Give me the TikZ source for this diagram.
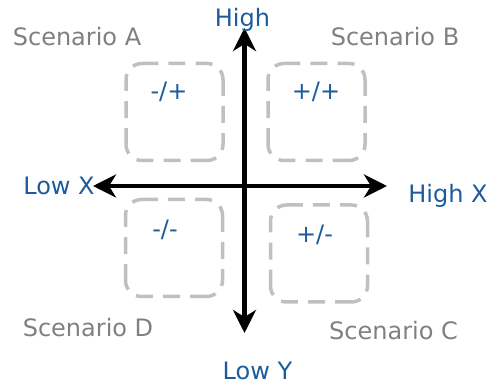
\documentclass[tikz,border=0pt]{standalone}
\usepackage{fontspec}
\setmainfont{DejaVu Sans}
\usetikzlibrary{positioning, arrows.meta}
\definecolor{axisblue}{RGB}{28,92,156}
\definecolor{scengray}{RGB}{128,128,128}
\definecolor{quadgray}{RGB}{192,192,192}

\begin{document}
\begin{tikzpicture}[x=1pt, y=-1pt, >={Stealth[length=23pt, width=23pt, inset=7pt]},
  font=\fontsize{24}{28}\selectfont,
  area/.style={minimum width=97pt, minimum height=97pt, inner sep=0pt, outer sep=0pt},
  quad/.style={draw=quadgray, line width=3.5pt, rounded corners=16pt,
    dash pattern=on 17pt off 10pt on 26pt off 10pt on 17pt off 10.1pt, dash phase=85.05pt},
  sign/.style={text=axisblue, anchor=base, inner sep=0pt},
  ends/.style={text=axisblue, anchor=base, inner sep=0pt},
  scen/.style={text=scengray, anchor=base, inner sep=0pt},
  axis/.style={line width=4.5pt}]
  \useasboundingbox (0,0) rectangle (493,387);
  % --- quadrant boxes ---
  \node[area] (qa) at (174.5,112) {};
  \node[area] (qb) at (316.5,112) {};
  \node[area] (qd) at (174,248) {};
  \node[area] (qc) at (319,253.5) {};
  \draw[quad] (qa.west) |- (qa.north east) |- (qa.south west) -- cycle;
  \draw[quad] (qb.west) |- (qb.north east) |- (qb.south west) -- cycle;
  \draw[quad] (qd.west) |- (qd.north east) |- (qd.south west) -- cycle;
  \draw[quad] (qc.west) |- (qc.north east) |- (qc.south west) -- cycle;
  \node[sign] (sa) at (169,100) {-/+};
  \node[sign] (sb) at (316,100) {+/+};
  \node[sign] (sd) at (165,238) {-/-};
  \node[sign] (sc) at (314.5,243) {+/-};
  % --- axes ---
  \coordinate (o) at (244.5,186);
  \coordinate (ytop) at (244.5,28);
  \coordinate (ybot) at (244.5,333);
  \coordinate (xlo) at (93,186);
  \coordinate (xhi) at (387,186);
  \draw[axis, <->] (xlo) -- (xhi);
  \draw[axis, <->] (ybot) -- (ytop);
  % --- axis ends ---
  \node[ends] (hy) at (242.5,27) {High};
  \node[ends] (ly) at (257.5,380) {Low Y};
  \node[ends] (lx) at (59,195) {Low X};
  \node[ends] (hx) at (448,203) {High X};
  % --- scenario names ---
  \node[scen] (na) at (77,46) {Scenario A};
  \node[scen] (nb) at (395,46) {Scenario B};
  \node[scen] (nd) at (88,337) {Scenario D};
  \node[scen] (nc) at (393.5,340) {Scenario C};
\end{tikzpicture}
\end{document}
